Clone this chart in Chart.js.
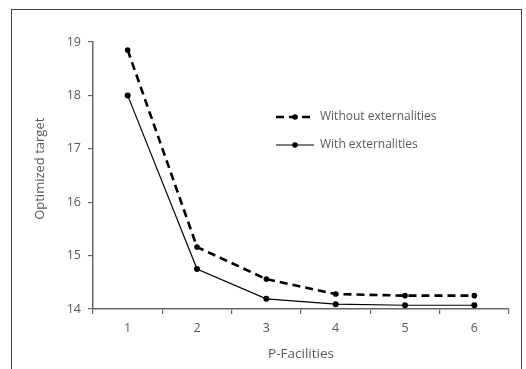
<!DOCTYPE html>
<html>
<head>
<meta charset="utf-8">
<script src="https://cdn.jsdelivr.net/npm/chart.js@4/dist/chart.umd.min.js"></script>
<style>
  html, body { margin: 0; padding: 0; background: #fff; }
  #wrap { position: relative; width: 526px; height: 369px; overflow: hidden; }
  #frame { position: absolute; left: 11px; top: 9px; width: 509px; height: 400px; border: 1.5px solid #444; }
  canvas { position: absolute; left: 0; top: 0; }
</style>
</head>
<body>
<div id="wrap">
  <div id="frame"></div>
  <canvas id="chart" width="526" height="369"></canvas>
</div>
<script>
// data
var facilities = ["1", "2", "3", "4", "5", "6"];
var withoutExt = [18.85, 15.16, 14.56, 14.28, 14.25, 14.25];
var withExt = [18.0, 14.75, 14.19, 14.09, 14.07, 14.07];
var seriesNames = ["Without externalities", "With externalities"];

var gray = "#595959";
var fontFamily = "'Open Sans', 'Liberation Sans', sans-serif";

// legend drawn inside the plot, like the original
var innerLegend = {
    id: "innerLegend",
    afterDatasetsDraw: function(chart) {
        var ctx = chart.ctx;
        var area = chart.chartArea;
        var x0 = area.left + 183, x1 = x0 + 38;
        var rows = [area.top + 75, area.top + 103];
        ctx.save();
        chart.data.datasets.forEach(function(ds, i) {
            var y = rows[i];
            ctx.strokeStyle = "#000";
            ctx.lineWidth = ds.borderWidth;
            ctx.setLineDash(ds.borderDash || []);
            ctx.beginPath();
            ctx.moveTo(x0, y);
            ctx.lineTo(x1, y);
            ctx.stroke();
            ctx.setLineDash([]);
            ctx.fillStyle = "#000";
            ctx.beginPath();
            ctx.arc((x0 + x1) / 2, y, 2.8, 0, Math.PI * 2);
            ctx.fill();
            ctx.fillStyle = gray;
            ctx.font = "12px " + fontFamily;
            ctx.textBaseline = "middle";
            ctx.textAlign = "left";
            ctx.fillText(ds.label, x1 + 6, y);
        });
        ctx.restore();
    }
};

new Chart(document.getElementById("chart"), {
    type: "line",
    data: {
        labels: facilities,
        datasets: [{
            label: seriesNames[0],
            data: withoutExt,
            borderColor: "#000",
            backgroundColor: "#000",
            borderWidth: 2.6,
            borderDash: [8, 5],
            pointRadius: 2.8,
            pointBorderWidth: 0,
            tension: 0,
            fill: false
        }, {
            label: seriesNames[1],
            data: withExt,
            borderColor: "#000",
            backgroundColor: "#000",
            borderWidth: 1.2,
            pointRadius: 3,
            pointBorderWidth: 0,
            tension: 0,
            fill: false
        }]
    },
    options: {
        responsive: false,
        animation: false,
        devicePixelRatio: 1,
        layout: { padding: { top: 42, right: 17, bottom: 0, left: 0 } },
        plugins: { legend: { display: false }, tooltip: { enabled: false } },
        scales: {
            x: {
                type: "category",
                offset: true,
                grid: { offset: true, drawOnChartArea: false, color: "#666", tickLength: 5, lineWidth: 1.2 },
                border: { color: "#666", width: 1.5 },
                ticks: { color: gray, font: { family: fontFamily, size: 12.5 }, padding: 7 },
                title: { display: true, text: "P-Facilities", color: gray, font: { family: fontFamily, size: 13.5 }, padding: { top: 0, bottom: 7 } },
                afterFit: function(scale) { scale.height = 60; }
            },
            y: {
                min: 14,
                max: 19,
                ticks: { stepSize: 1, color: gray, font: { family: fontFamily, size: 12.5 }, padding: 7 },
                grid: { drawOnChartArea: false, color: "#666", tickLength: 5, lineWidth: 1.2 },
                border: { color: "#666", width: 1.5 },
                title: { display: true, text: "    Optimized target", color: gray, font: { family: fontFamily, size: 13 }, padding: { top: 32, bottom: 0 } },
                afterFit: function(scale) { scale.width = 93; }
            }
        }
    },
    plugins: [innerLegend]
});
</script>
</body>
</html>
